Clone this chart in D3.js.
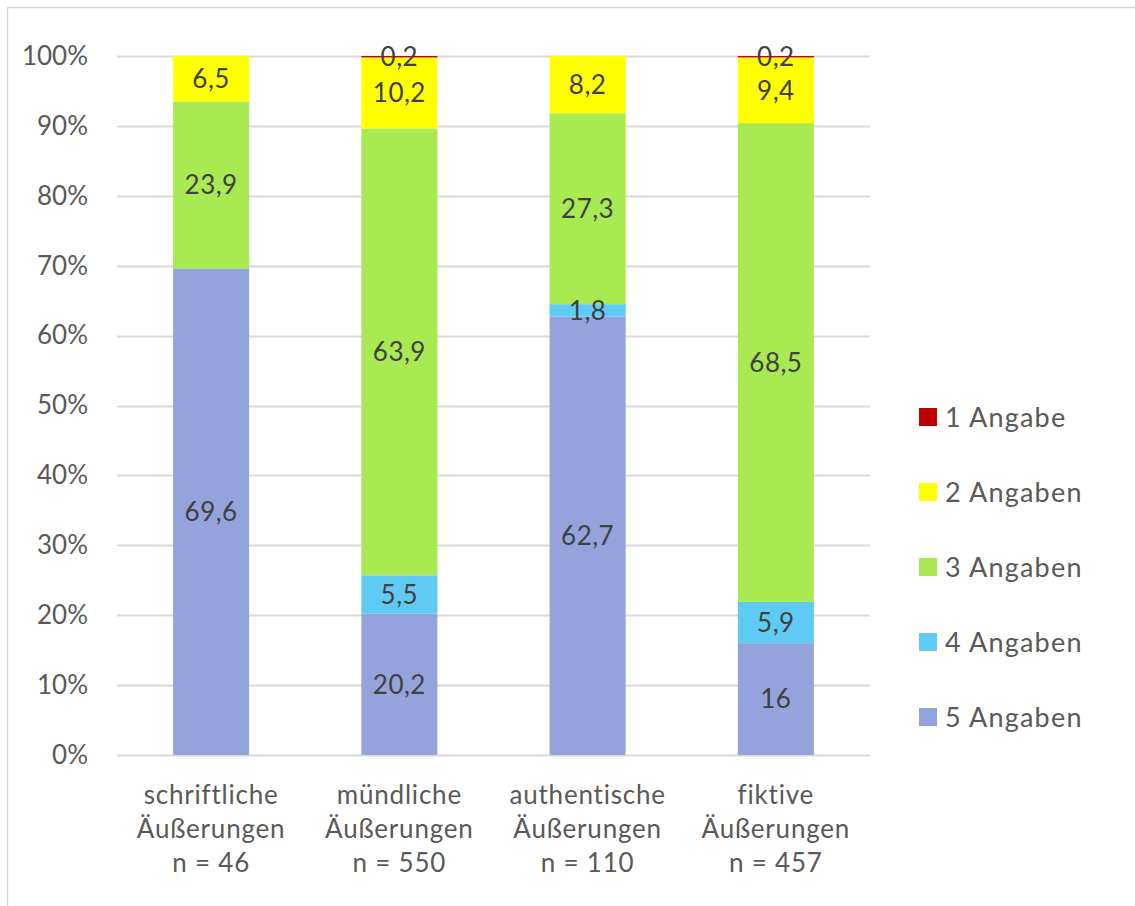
<!DOCTYPE html>
<html>
<head>
<meta charset="utf-8">
<script src="https://cdn.jsdelivr.net/npm/d3@7"></script>
<style>
  html, body { margin: 0; padding: 0; background: #fff; }
  svg { display: block; font-family: Lato, "Open Sans", sans-serif; }
</style>
</head>
<body>
<svg id="chart" width="1135" height="906"></svg>
<script>
// Categories (multi-line axis labels)
const categories = ["schriftliche", "mündliche", "authentische", "fiktive"];
const categoryLines = [
  ["schriftliche", "Äußerungen", "n = 46"],
  ["mündliche", "Äußerungen", "n = 550"],
  ["authentische", "Äußerungen", "n = 110"],
  ["fiktive", "Äußerungen", "n = 457"]
];

// Series (stack order bottom to top), values in percent
const seriesNames = ["5 Angaben", "4 Angaben", "3 Angaben", "2 Angaben", "1 Angabe"];
const angaben5 = [69.6, 20.2, 62.7, 16];
const angaben4 = [0, 5.5, 1.8, 5.9];
const angaben3 = [23.9, 63.9, 27.3, 68.5];
const angaben2 = [6.5, 10.2, 8.2, 9.4];
const angaben1 = [0, 0.2, 0, 0.2];
const seriesColors = ["#95A3DD", "#5FCBF3", "#A9EA52", "#FFFF00", "#C00000"];

const yTicks = [0, 10, 20, 30, 40, 50, 60, 70, 80, 90, 100];

const seriesValues = [angaben5, angaben4, angaben3, angaben2, angaben1];
const rows = categories.map((c, i) => {
  const r = { category: c };
  seriesNames.forEach((s, k) => { r[s] = seriesValues[k][i]; });
  return r;
});

const svg = d3.select("#chart");

// chart frame
svg.append("rect")
  .attr("x", 7.5).attr("y", 7.5)
  .attr("width", 1140).attr("height", 920)
  .attr("fill", "#fff").attr("stroke", "#D9D9D9").attr("stroke-width", 1.5);

const x = d3.scaleBand()
  .domain(categories)
  .range([117, 870])
  .paddingInner(0.596)
  .paddingOuter(0.298);

const y = d3.scaleLinear().domain([0, 100]).range([755, 56]);

// gridlines
svg.append("g")
  .selectAll("line")
  .data(yTicks)
  .join("line")
  .attr("x1", 117).attr("x2", 870)
  .attr("y1", d => Math.round(y(d)) + 0.5)
  .attr("y2", d => Math.round(y(d)) + 0.5)
  .attr("stroke", "#D9D9D9").attr("stroke-width", 2);

// y axis labels
const yAxis = d3.axisLeft(y).tickValues(yTicks).tickFormat(d => d + "%").tickSize(0).tickPadding(0);
const yg = svg.append("g").attr("transform", "translate(88,0)").call(yAxis);
yg.select(".domain").remove();
yg.selectAll("text")
  .attr("font-size", 26).attr("fill", "#595959")
  .attr("font-family", "Lato, 'Open Sans', sans-serif");

// stacked bars
const stack = d3.stack().keys(seriesNames);
const stacked = stack(rows);

const layers = svg.append("g")
  .selectAll("g")
  .data(stacked)
  .join("g")
  .attr("fill", (d, i) => seriesColors[i]);

layers.selectAll("rect")
  .data(d => d.map(v => ({ v, key: d.key })))
  .join("rect")
  .attr("x", d => x(d.v.data.category))
  .attr("width", x.bandwidth())
  .attr("y", d => y(d.v[1]))
  .attr("height", d => y(d.v[0]) - y(d.v[1]));

// data labels
const labels = svg.append("g");
stacked.forEach(layer => {
  layer.forEach(v => {
    const val = v.data[layer.key];
    if (!val) return;
    labels.append("text")
      .attr("x", x(v.data.category) + x.bandwidth() / 2)
      .attr("y", y((v[0] + v[1]) / 2))
      .attr("dy", "0.36em")
      .attr("text-anchor", "middle")
      .attr("font-size", 26)
      .attr("letter-spacing", 0.5)
      .attr("fill", "#404040")
      .text(String(val).replace(".", ","));
  });
});

// category labels
const cat = svg.append("g");
categories.forEach((c, i) => {
  const t = cat.append("text")
    .attr("x", x(c) + x.bandwidth() / 2)
    .attr("y", 804)
    .attr("text-anchor", "middle")
    .attr("font-size", 26)
    .attr("letter-spacing", 0.8)
    .attr("fill", "#595959");
  categoryLines[i].forEach((line, j) => {
    t.append("tspan")
      .attr("x", x(c) + x.bandwidth() / 2)
      .attr("dy", j === 0 ? 0 : 34)
      .text(line);
  });
});

// legend (top to bottom: 1 Angabe ... 5 Angaben)
const legendOrder = [4, 3, 2, 1, 0];
const legend = svg.append("g");
legendOrder.forEach((k, j) => {
  const cy = 417 + j * 75;
  legend.append("rect")
    .attr("x", 919).attr("y", cy - 9)
    .attr("width", 18).attr("height", 18)
    .attr("fill", seriesColors[k]);
  legend.append("text")
    .attr("x", 945).attr("y", cy)
    .attr("dy", "0.36em")
    .attr("font-size", 27)
    .attr("letter-spacing", 1.2)
    .attr("fill", "#595959")
    .text(seriesNames[k]);
});
</script>
</body>
</html>
